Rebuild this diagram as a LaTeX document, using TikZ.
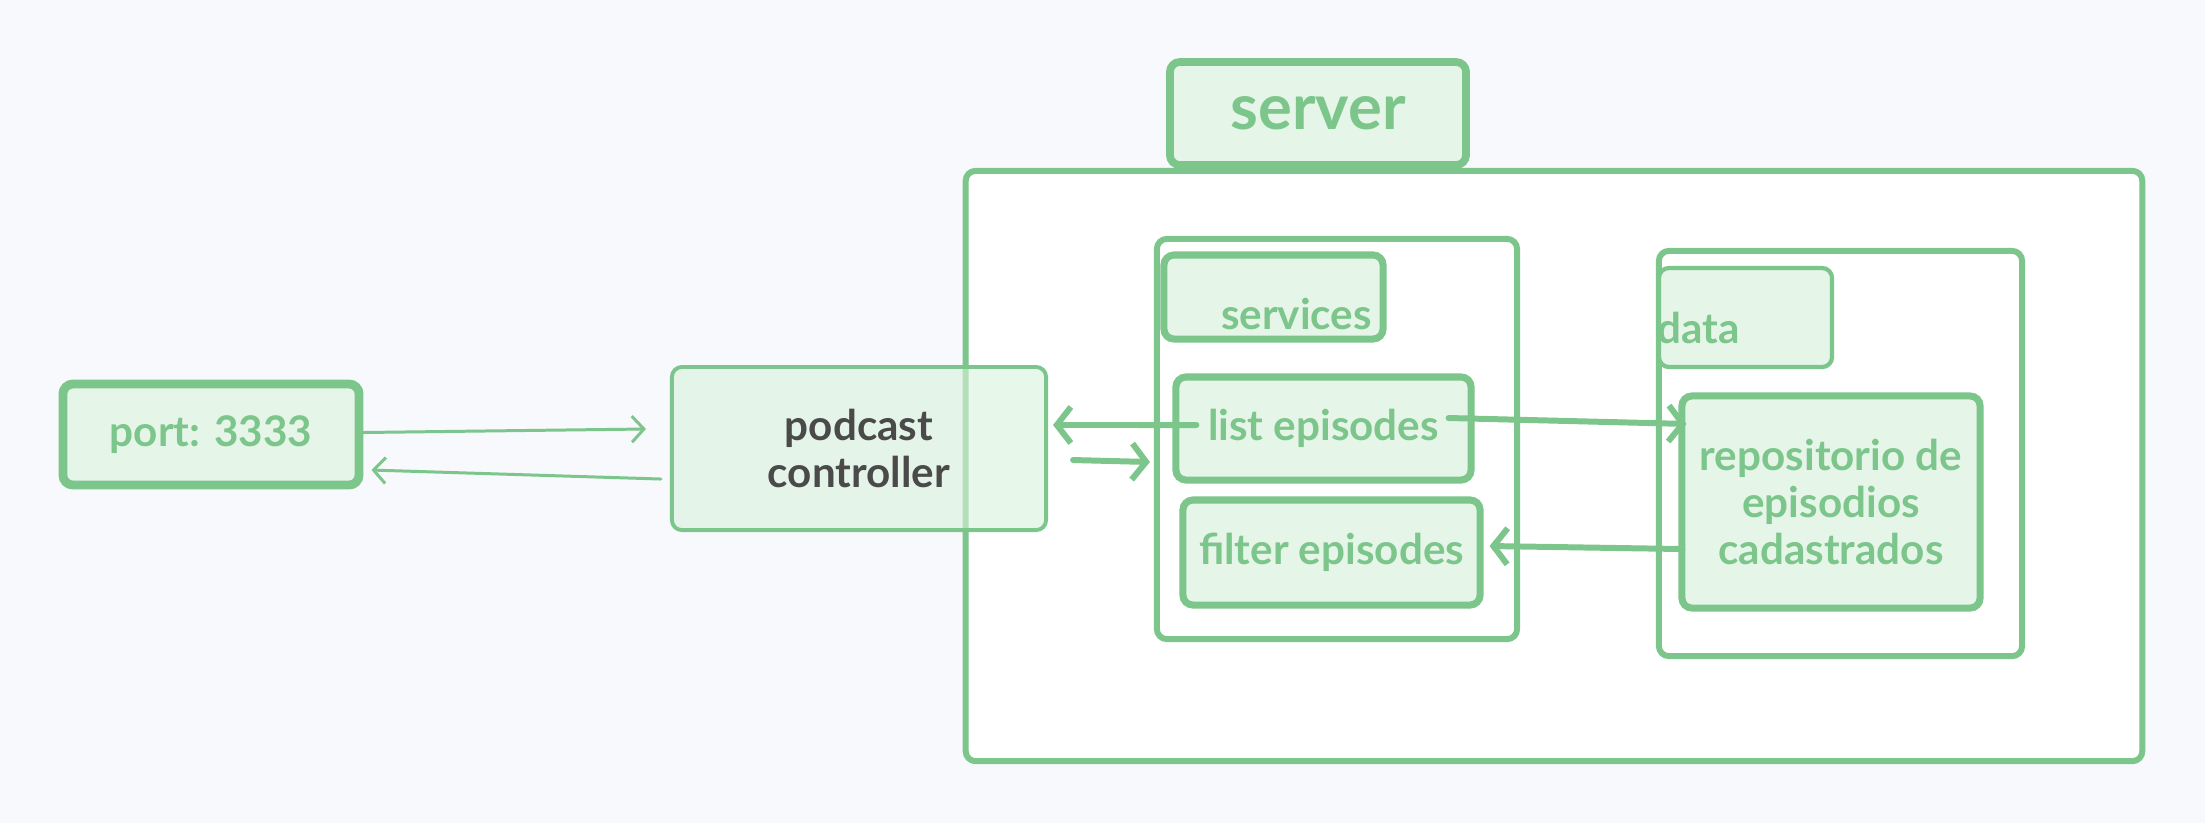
\documentclass[tikz,border=0pt]{standalone}
\usepackage{fontspec}
\setmainfont{Lato}
\usetikzlibrary{arrows.meta,positioning}

\definecolor{grn}{HTML}{7CC58B}
\definecolor{grnfill}{HTML}{E5F5E8}
\definecolor{ctrlfill}{HTML}{D8F2DB}
\definecolor{bgcol}{HTML}{F8F9FC}
\definecolor{ink}{HTML}{4A4A4A}

\newcommand{\normtext}{\fontsize{12}{13.4}\selectfont\bfseries}
\newcommand{\bigtext}{\fontsize{18}{20}\selectfont\bfseries}

\begin{document}
\begin{tikzpicture}[
                x=0.01cm, y=-0.01cm,
                frame/.style={draw=grn, fill=white, line width=1.7pt, rounded corners=0.1cm, inner sep=0pt},
                box/.style={draw=grn, fill=grnfill, line width=2pt, rounded corners=0.1cm, inner sep=0pt,
                            text=grn, font=\normtext, align=center},
                thinarrow/.style={draw=grn, line width=0.85pt, line cap=round,
                            -{Straight Barb[length=0.12cm,width=0.26cm]}},
                thickarrow/.style={draw=grn, line width=1.7pt, line cap=round,
                            -{Straight Barb[length=0.14cm,width=0.36cm]}}
            ]
                \fill[bgcol] (0,0) rectangle (2205,823);
                \useasboundingbox (0,0) rectangle (2205,823);

                % containers
                \node[frame, minimum width=11.76cm, minimum height=5.90cm] (server) at (1554,466) {};
                \node[frame, minimum width=3.60cm, minimum height=4.00cm] (svc) at (1337,439) {};
                \node[frame, minimum width=3.63cm, minimum height=4.05cm] (data) at (1840.5,453.5) {};

                % labels of the containers
                \node[box, line width=2.2pt, minimum width=2.96cm, minimum height=1.03cm, font=\bigtext]
                    (serverlbl) at (1318,113.5) {server};
                \node[box, minimum width=2.19cm, minimum height=0.84cm,
                      label={[text=grn, font=\normtext, xshift=0.23cm, yshift=-0.17cm]center:services}]
                    (svclbl) at (1273.5,297) {};
                \node[box, line width=1.2pt, minimum width=1.73cm, minimum height=0.99cm,
                      label={[text=grn, font=\normtext, anchor=west, inner sep=0pt, yshift=-0.1cm]west:data}]
                    (datalbl) at (1745.5,317.5) {};

                % boxes
                \node[box, line width=2.5pt, minimum width=2.96cm, minimum height=1.01cm] (port) at (211,434.5) {port: 3333};
                \node[box, draw=grn, fill=ctrlfill, fill opacity=0.6, text opacity=1, text=ink, line width=1.1pt,
                      minimum width=3.74cm, minimum height=1.63cm] (ctrl) at (859,448.5) {podcast\\controller};
                \node[box, minimum width=2.95cm, minimum height=1.03cm] (list) at (1323.5,428.5) {list episodes};
                \node[box, minimum width=2.97cm, minimum height=1.05cm] (filter) at (1331.5,552.5) {filter episodes};
                \node[box, minimum width=2.98cm, minimum height=2.12cm] (repo) at (1831,502) {repositorio de\\episodios\\cadastrados};

                % connectors
                \draw[thinarrow] ([yshift=0.02cm]port.east) -- ([xshift=-0.24cm,yshift=0.195cm]ctrl.west);
                \draw[thinarrow] ([xshift=-0.09cm,yshift=-0.305cm]ctrl.west) -- ([xshift=0.08cm,yshift=-0.355cm]port.east);
                \draw[thickarrow] ([xshift=0.24cm,yshift=0.035cm]list.west) -- ([xshift=0.05cm,yshift=0.235cm]ctrl.east);
                \draw[thickarrow] ([xshift=0.25cm,yshift=-0.115cm]ctrl.east) -- ([xshift=-0.04cm,yshift=-0.23cm]svc.west);
                \draw[thickarrow] ([xshift=-0.26cm,yshift=0.105cm]list.east) -- ([xshift=0.08cm,yshift=0.78cm]repo.west);
                \draw[thickarrow] ([xshift=0.04cm,yshift=-0.47cm]repo.west) -- ([xshift=0.06cm,yshift=0.065cm]filter.east);
            \end{tikzpicture}
\end{document}
